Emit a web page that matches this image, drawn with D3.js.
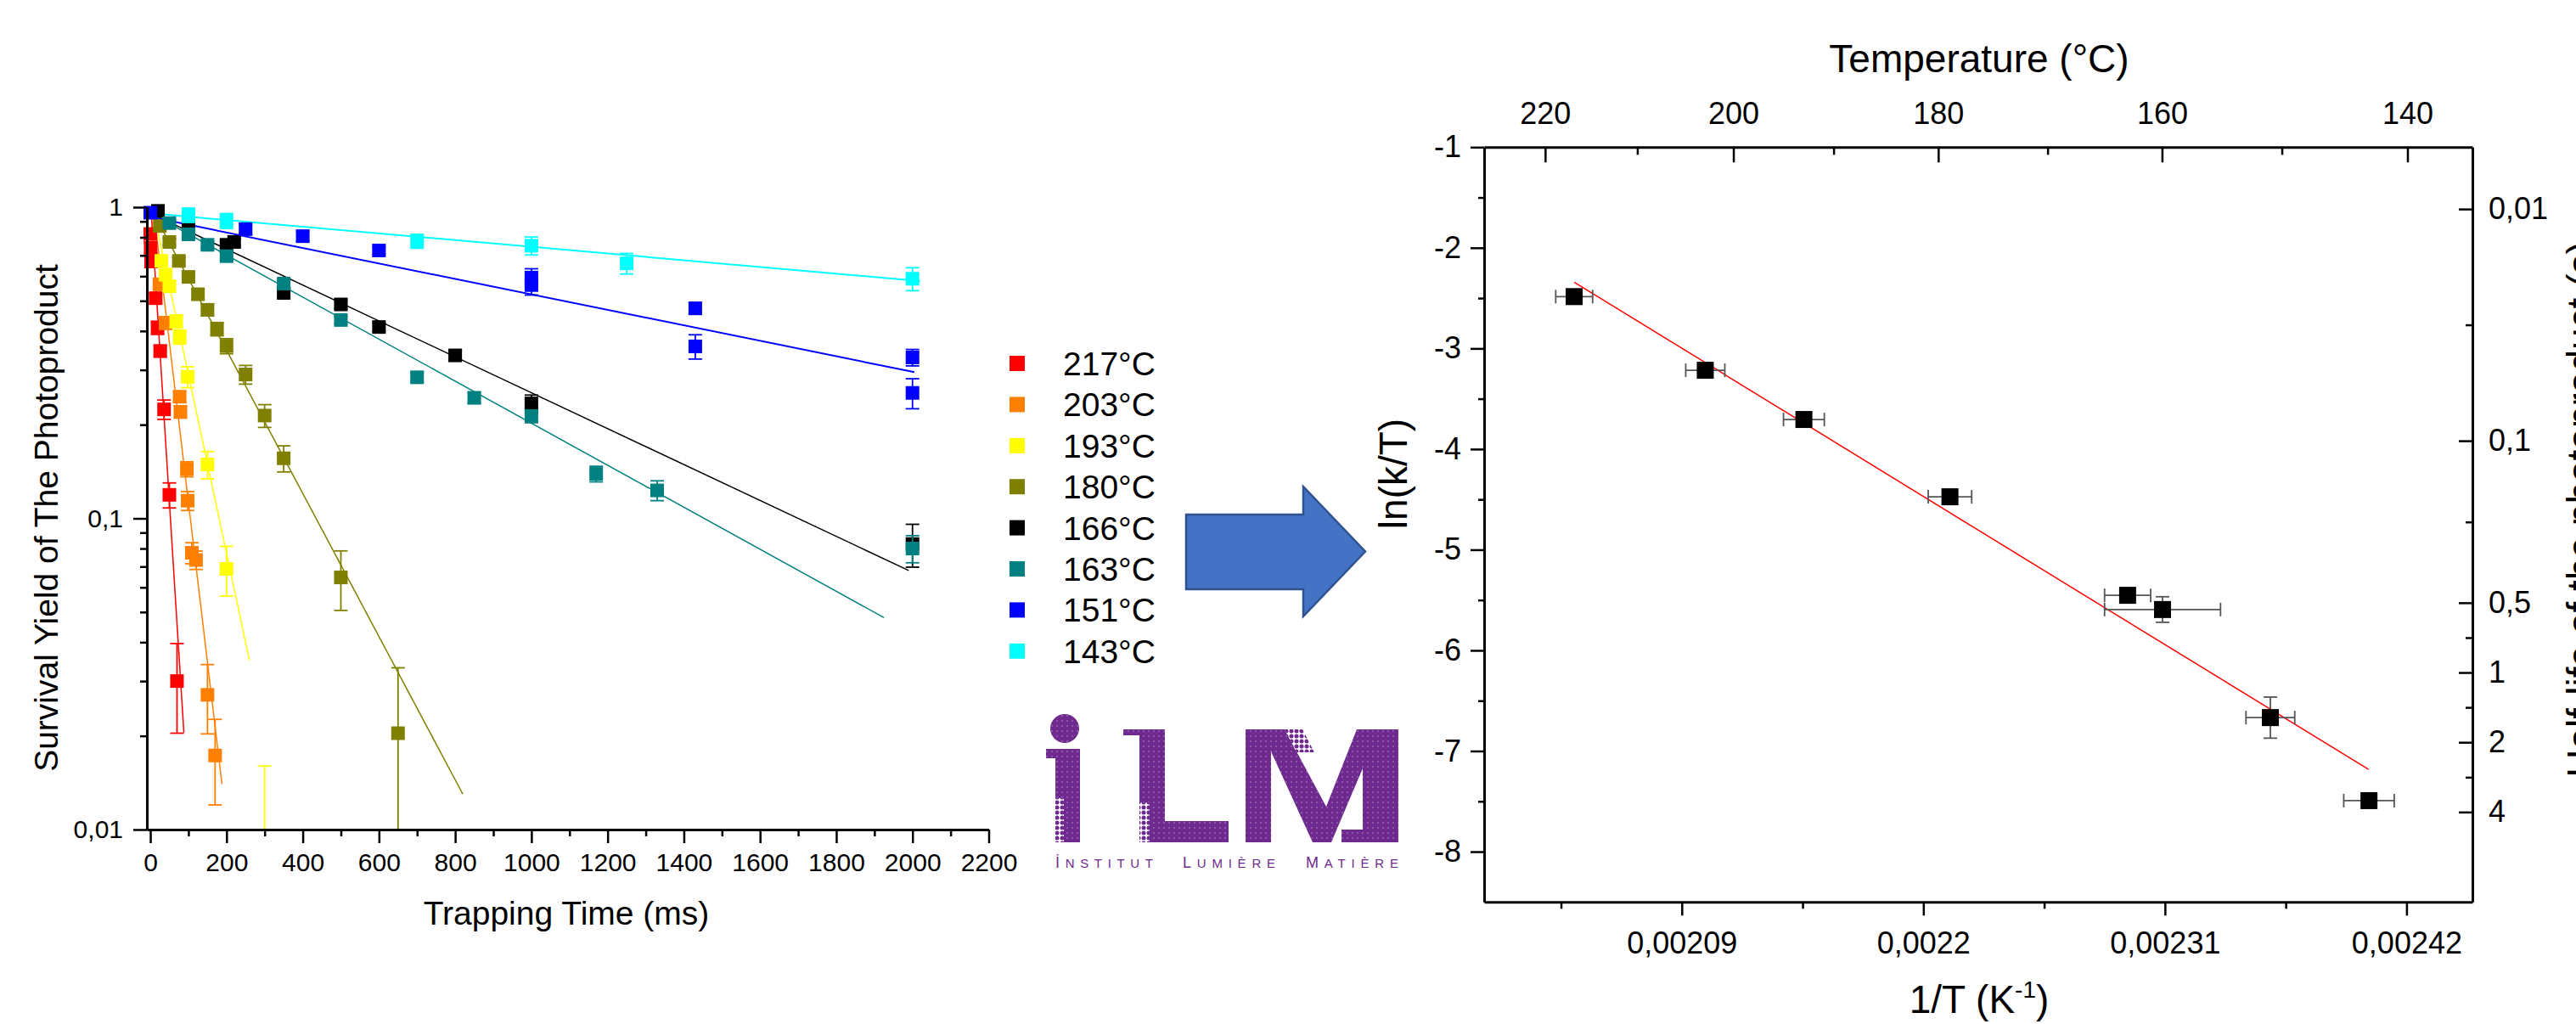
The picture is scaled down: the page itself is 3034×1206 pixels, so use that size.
<!DOCTYPE html>
<html>
<head>
<meta charset="utf-8">
<script src="https://cdn.jsdelivr.net/npm/d3@7"></script>
<style>
  body { margin: 0; background: #fff; }
  svg { display: block; }
  text { font-family: "Liberation Sans", Arial, sans-serif; fill: #000; }
</style>
</head>
<body>
<svg id="fig" width="3034" height="1206"></svg>
<script>
// ---- left chart: survival yield vs trapping time ----
const seriesLabels = ['217°C', '203°C', '193°C', '180°C', '166°C', '163°C', '151°C', '143°C'];
const seriesColors = ['#ff0000', '#ff8000', '#ffff00', '#808000', '#000000', '#008080', '#0000ff', '#00ffff'];

const t217 = [0, 1, 2, 14, 19, 26, 36, 50, 70];
const y217 = [0.82, 0.74, 0.67, 0.51, 0.41, 0.345, 0.224, 0.119, 0.030];
const e217 = [0.03, 0.03, 0.03, 0.02, 0.02, 0.015, 0.016, 0.011, 0.0096];

const t203 = [24, 40, 77, 79, 96, 98, 109, 120, 150, 170];
const y203 = [0.565, 0.425, 0.246, 0.22, 0.144, 0.114, 0.0775, 0.0735, 0.0271, 0.0173];
const e203 = [0.02, 0.02, 0.01, 0.01, 0.008, 0.008, 0.006, 0.005, 0.0068, 0.0053];

const t193 = [29, 40, 50, 68, 77, 98, 150, 200, 300];
const y193 = [0.672, 0.607, 0.557, 0.43, 0.383, 0.285, 0.149, 0.0688, 0.008];
const e193 = [0.02, 0.02, 0.02, 0.02, 0.02, 0.022, 0.015, 0.0125, 0.008];

const t180 = [25, 50, 75, 100, 125, 150, 175, 200, 250, 300, 350, 500, 650];
const y180 = [0.87, 0.773, 0.672, 0.597, 0.525, 0.468, 0.406, 0.358, 0.29, 0.214, 0.156, 0.0646, 0.0204];
const e180 = [0.02, 0.02, 0.02, 0.02, 0.02, 0.02, 0.02, 0.02, 0.02, 0.018, 0.015, 0.014, 0.0127];

const t166 = [20, 100, 200, 220, 350, 500, 600, 800, 1000, 2000];
const y166 = [0.973, 0.876, 0.757, 0.773, 0.53, 0.487, 0.412, 0.334, 0.234, 0.0827];
const e166 = [0.02, 0.02, 0.02, 0.02, 0.015, 0.015, 0.012, 0.012, 0.015, 0.013];

const t163 = [50, 100, 150, 200, 350, 500, 700, 850, 1000, 1170, 1330, 2000];
const y163 = [0.889, 0.818, 0.757, 0.696, 0.568, 0.434, 0.284, 0.244, 0.213, 0.139, 0.123, 0.08];
const e163 = [0.02, 0.02, 0.02, 0.02, 0.015, 0.012, 0.01, 0.01, 0.01, 0.008, 0.009, 0.008];

const t151 = [0, 250, 400, 600, 1000, 1000, 1430, 1430, 2000, 2000];
const y151 = [0.96, 0.85, 0.807, 0.726, 0.594, 0.562, 0.473, 0.357, 0.329, 0.253];
const e151 = [0.02, 0.03, 0.03, 0.02, 0.04, 0.04, 0.02, 0.032, 0.02, 0.028];

const t143 = [100, 200, 700, 1000, 1250, 2000];
const y143 = [0.943, 0.904, 0.778, 0.752, 0.66, 0.589];
const e143 = [0.05, 0.05, 0.04, 0.05, 0.05, 0.05];

// fitted decays: [t start, yield start, t end, yield end]
const fits = [
  [3, 0.94, 88, 0.0205],
  [10, 0.95, 188, 0.014],
  [10, 0.95, 260, 0.035],
  [10, 0.95, 820, 0.013],
  [5, 0.95, 1990, 0.068],
  [5, 0.95, 1925, 0.048],
  [0, 0.93, 2005, 0.295],
  [3, 0.955, 2020, 0.579]
];

const timeTicks = [0, 200, 400, 600, 800, 1000, 1200, 1400, 1600, 1800, 2000, 2200];
const timeMinor = [100, 300, 500, 700, 900, 1100, 1300, 1500, 1700, 1900, 2100];
const yieldTicks = [1, 0.1, 0.01];
const yieldMinor = [0.02, 0.03, 0.04, 0.05, 0.06, 0.07, 0.08, 0.09, 0.2, 0.3, 0.4, 0.5, 0.6, 0.7, 0.8, 0.9];

// ---- right chart: Arrhenius-type plot ----
const invT = [0.002041, 0.0021007, 0.0021456, 0.0022121, 0.0022930, 0.0023089, 0.0023580, 0.0024029];
const lnkT = [-2.485, -3.217, -3.706, -4.474, -5.453, -5.594, -6.668, -7.493];
const invTErr = [8.4e-6, 8.9e-6, 9.3e-6, 9.9e-6, 1.05e-5, 2.64e-5, 1.11e-5, 1.15e-5];
const lnkTErr = [0.02, 0.02, 0.02, 0.02, 0.03, 0.127, 0.204, 0.03];
const arrheniusFit = [0.002041, -2.342, 0.0024027, -7.183];

const invTTicks = [0.00209, 0.0022, 0.00231, 0.00242];
const invTMinor = [0.002035, 0.002145, 0.002255, 0.002365];
const lnTicks = [-1, -2, -3, -4, -5, -6, -7, -8];
const lnMinor = [-1.5, -2.5, -3.5, -4.5, -5.5, -6.5, -7.5];
const tempTicks = [220, 200, 180, 160, 140];
const tempMinor = [210, 190, 170, 150];
const halfLifeTicks = [0.01, 0.1, 0.5, 1, 2, 4];
const halfLifeMinor = [0.0316, 0.224, 0.707, 1.414, 2.83];
const halfLifeOffset = -6.22; // ln(k/T) = offset - ln(t1/2)

const svg = d3.select('#fig');
const fmtComma = d => String(d).replace('.', ',');

function styleAxis(g, size) {
  g.select('.domain').attr('stroke-width', 3);
  g.selectAll('.tick line').attr('stroke-width', 2.5);
  g.selectAll('.tick text').attr('font-size', size).attr('fill', '#000')
    .attr('font-family', '"Liberation Sans", Arial, sans-serif');
}
function minorAxis(g) {
  g.select('.domain').remove();
  g.selectAll('.tick line').attr('stroke-width', 2.5);
}

// ============ left chart ============
const xL = d3.scaleLinear().domain([-9, 2200]).range([173, 1164.5]);
const yL = d3.scaleLog().domain([0.01, 1]).range([977, 244]);

svg.append('clipPath').attr('id', 'clipL')
  .append('rect').attr('x', 150).attr('y', 200).attr('width', 1050).attr('height', 777);

const series = [
  [t217, y217, e217], [t203, y203, e203], [t193, y193, e193], [t180, y180, e180],
  [t166, y166, e166], [t163, y163, e163], [t151, y151, e151], [t143, y143, e143]
];

const plotL = svg.append('g').attr('clip-path', 'url(#clipL)');
const line = d3.line();

series.forEach(([ts, ys, es], i) => {
  const f = fits[i];
  plotL.append('path')
    .attr('d', line([[xL(f[0]), yL(f[1])], [xL(f[2]), yL(f[3])]]))
    .attr('fill', 'none')
    .attr('stroke', seriesColors[i])
    .attr('stroke-width', i >= 6 ? 2 : 1.5);
});

series.forEach(([ts, ys, es], i) => {
  const c = seriesColors[i];
  const g = plotL.append('g');
  ts.forEach((t, j) => {
    const x = xL(t);
    const top = yL(ys[j] + es[j]);
    const bot = yL(Math.max(ys[j] - es[j], 0.001));
    g.append('line').attr('x1', x).attr('x2', x).attr('y1', top).attr('y2', bot)
      .attr('stroke', c).attr('stroke-width', 1.8);
    [top, bot].forEach(yy => {
      g.append('line').attr('x1', x - 8).attr('x2', x + 8).attr('y1', yy).attr('y2', yy)
        .attr('stroke', c).attr('stroke-width', 1.8);
    });
  });
  g.selectAll('rect').data(ts).join('rect')
    .attr('x', (t) => xL(t) - 8)
    .attr('y', (t, j) => yL(ys[j]) - 8)
    .attr('width', 16).attr('height', 16)
    .attr('fill', c);
});

const gxL = svg.append('g').attr('transform', 'translate(0,977)')
  .call(d3.axisBottom(xL).tickValues(timeTicks).tickFormat(d => String(d))
    .tickSize(16).tickPadding(12).tickSizeOuter(0));
styleAxis(gxL, 30);
svg.append('g').attr('transform', 'translate(0,977)')
  .call(d3.axisBottom(xL).tickValues(timeMinor).tickSize(8).tickFormat('').tickSizeOuter(0))
  .call(minorAxis);

const gyL = svg.append('g').attr('transform', 'translate(173,0)')
  .call(d3.axisLeft(yL).tickValues(yieldTicks).tickFormat(fmtComma).tickSize(16).tickPadding(12).tickSizeOuter(0));
styleAxis(gyL, 30);
svg.append('g').attr('transform', 'translate(173,0)')
  .call(d3.axisLeft(yL).tickValues(yieldMinor).tickSize(8).tickFormat('').tickSizeOuter(0))
  .call(minorAxis);

svg.append('text').attr('x', 667).attr('y', 1089).attr('text-anchor', 'middle')
  .attr('font-size', 39).text('Trapping Time (ms)');
svg.append('text').attr('transform', 'translate(68,610) rotate(-90)').attr('text-anchor', 'middle')
  .attr('font-size', 39).text('Survival Yield of The Photoproduct');

// legend
const legend = svg.append('g');
seriesLabels.forEach((lab, i) => {
  const cy = 428 + i * 48.4;
  legend.append('rect').attr('x', 1189).attr('y', cy - 9).attr('width', 18).attr('height', 18)
    .attr('fill', seriesColors[i]);
  legend.append('text').attr('x', 1252).attr('y', cy).attr('dy', '0.36em')
    .attr('font-size', 39).text(lab);
});

// ============ arrow ============
svg.append('path')
  .attr('d', 'M1397,606 L1535,606 L1535,573 L1608,649.5 L1535,726 L1535,694 L1397,694 Z')
  .attr('fill', '#4472c4').attr('stroke', '#2f528f').attr('stroke-width', 2.5);

// ============ logo ============
const purple = '#6e2a8e';
const defs = svg.append('defs');
const pat = defs.append('pattern').attr('id', 'halftone').attr('patternUnits', 'userSpaceOnUse')
  .attr('width', 6).attr('height', 6);
pat.append('rect').attr('width', 6).attr('height', 6).attr('fill', purple);
pat.append('circle').attr('cx', 3).attr('cy', 3).attr('r', 0.9).attr('fill', '#9b6ab5');
const pat2 = defs.append('pattern').attr('id', 'halftone2').attr('patternUnits', 'userSpaceOnUse')
  .attr('width', 6).attr('height', 6);
pat2.append('rect').attr('width', 6).attr('height', 6).attr('fill', '#fff');
pat2.append('circle').attr('cx', 3).attr('cy', 3).attr('r', 2.5).attr('fill', purple);

const logo = svg.append('g');
logo.append('circle').attr('cx', 1254).attr('cy', 858).attr('r', 17).attr('fill', 'url(#halftone)');
logo.append('path').attr('d', 'M1232,882 L1272,882 L1272,992 L1243,992 L1243,893 L1232,893 Z')
  .attr('fill', 'url(#halftone)');
logo.append('path').attr('d', 'M1323,859 L1372,859 L1372,967 L1447,967 L1447,992 L1342,992 L1342,866 L1323,866 Z')
  .attr('fill', 'url(#halftone)');
logo.append('path')
  .attr('d', 'M1467,859 L1513,859 L1562,950 L1598,859 L1647,859 L1647,992 L1580,992 L1580,977 L1605,977 L1605,905 L1568,992 L1546,992 L1497,885 L1497,992 L1467,992 Z')
  .attr('fill', 'url(#halftone)');
// lighter dotted edges of the letters
logo.append('rect').attr('x', 1243).attr('y', 940).attr('width', 10).attr('height', 52).attr('fill', 'url(#halftone2)');
logo.append('rect').attr('x', 1342).attr('y', 945).attr('width', 12).attr('height', 47).attr('fill', 'url(#halftone2)');
logo.append('path').attr('d', 'M1513,859 L1534,859 L1548,886 L1527,886 Z').attr('fill', 'url(#halftone2)');

const words = [['İ', 'NSTITUT', 1243, 115], ['L', 'UMIÈRE', 1393, 109], ['M', 'ATIÈRE', 1538, 109]];
words.forEach(([first, rest, x, w]) => {
  const t = logo.append('text').attr('x', x).attr('y', 1022).attr('fill', purple)
    .attr('textLength', w).attr('lengthAdjust', 'spacing');
  t.append('tspan').attr('font-size', 18).attr('fill', purple).text(first);
  t.append('tspan').attr('font-size', 15).attr('fill', purple).text(rest);
});

// ============ right chart ============
const xR = d3.scaleLinear().domain([0.002, 0.00245]).range([1748, 2912]);
const yR = d3.scaleLinear().domain([-8.5, -1]).range([1062.3, 173.3]);
const yH = d3.scaleLog()
  .domain([Math.exp(halfLifeOffset + 1), Math.exp(halfLifeOffset + 8.5)])
  .range([173.3, 1062.3]);

const plotR = svg.append('g');
plotR.append('path')
  .attr('d', line([[xR(arrheniusFit[0]), yR(arrheniusFit[1])], [xR(arrheniusFit[2]), yR(arrheniusFit[3])]]))
  .attr('stroke', '#ff0000').attr('stroke-width', 1.5).attr('fill', 'none');

invT.forEach((v, i) => {
  const x = xR(v), y = yR(lnkT[i]);
  const x0 = xR(v - invTErr[i]), x1 = xR(v + invTErr[i]);
  const y0 = yR(lnkT[i] - lnkTErr[i]), y1 = yR(lnkT[i] + lnkTErr[i]);
  const eg = plotR.append('g').attr('stroke', '#555').attr('stroke-width', 1.8);
  eg.append('line').attr('x1', x0).attr('x2', x1).attr('y1', y).attr('y2', y);
  eg.append('line').attr('x1', x0).attr('x2', x0).attr('y1', y - 8).attr('y2', y + 8);
  eg.append('line').attr('x1', x1).attr('x2', x1).attr('y1', y - 8).attr('y2', y + 8);
  eg.append('line').attr('x1', x).attr('x2', x).attr('y1', y0).attr('y2', y1);
  eg.append('line').attr('x1', x - 8).attr('x2', x + 8).attr('y1', y0).attr('y2', y0);
  eg.append('line').attr('x1', x - 8).attr('x2', x + 8).attr('y1', y1).attr('y2', y1);
});
plotR.selectAll('rect.pt').data(invT).join('rect').attr('class', 'pt')
  .attr('x', d => xR(d) - 10)
  .attr('y', (d, i) => yR(lnkT[i]) - 10)
  .attr('width', 20).attr('height', 20).attr('fill', '#000');

const gxB = svg.append('g').attr('transform', 'translate(0,1062.3)')
  .call(d3.axisBottom(xR).tickValues(invTTicks).tickFormat(fmtComma).tickSize(16).tickPadding(19).tickSizeOuter(0));
styleAxis(gxB, 36);
svg.append('g').attr('transform', 'translate(0,1062.3)')
  .call(d3.axisBottom(xR).tickValues(invTMinor).tickFormat('').tickSize(8).tickSizeOuter(0))
  .call(minorAxis);

const gxT = svg.append('g').attr('transform', 'translate(0,173.3)')
  .call(d3.axisTop(xR).tickValues(tempTicks.map(c => 1 / (c + 273.15)))
    .tickFormat(v => Math.round(1 / v - 273.15)).tickSize(-18).tickPadding(27).tickSizeOuter(0));
styleAxis(gxT, 36);
svg.append('g').attr('transform', 'translate(0,173.3)')
  .call(d3.axisTop(xR).tickValues(tempMinor.map(c => 1 / (c + 273.15))).tickFormat('').tickSize(-9).tickSizeOuter(0))
  .call(minorAxis);

const gyLR = svg.append('g').attr('transform', 'translate(1748,0)')
  .call(d3.axisLeft(yR).tickValues(lnTicks).tickFormat(d => String(d)).tickSize(16).tickPadding(11).tickSizeOuter(0));
styleAxis(gyLR, 36);
svg.append('g').attr('transform', 'translate(1748,0)')
  .call(d3.axisLeft(yR).tickValues(lnMinor).tickFormat('').tickSize(7).tickSizeOuter(0))
  .call(minorAxis);

const gyRR = svg.append('g').attr('transform', 'translate(2912,0)')
  .call(d3.axisRight(yH).tickValues(halfLifeTicks).tickFormat(fmtComma).tickSize(-16).tickPadding(19).tickSizeOuter(0));
styleAxis(gyRR, 36);
svg.append('g').attr('transform', 'translate(2912,0)')
  .call(d3.axisRight(yH).tickValues(halfLifeMinor).tickFormat('').tickSize(-8).tickSizeOuter(0))
  .call(minorAxis);

svg.append('text').attr('x', 2331).attr('y', 85).attr('text-anchor', 'middle')
  .attr('font-size', 46).text('Temperature (°C)');
const xt = svg.append('text').attr('x', 2331).attr('y', 1193).attr('text-anchor', 'middle')
  .attr('font-size', 46);
xt.append('tspan').text('1/T (K');
xt.append('tspan').attr('font-size', 28).attr('dy', -18).text('-1');
xt.append('tspan').attr('dy', 18).text(')');
svg.append('text').attr('transform', 'translate(1657,558) rotate(-90)').attr('text-anchor', 'middle')
  .attr('font-size', 46).text('ln(k/T)');
svg.append('text').attr('transform', 'translate(3056,600) rotate(-90)').attr('text-anchor', 'middle')
  .attr('font-size', 46).text('Half-life of the photoproduct (s)');
</script>
</body>
</html>
